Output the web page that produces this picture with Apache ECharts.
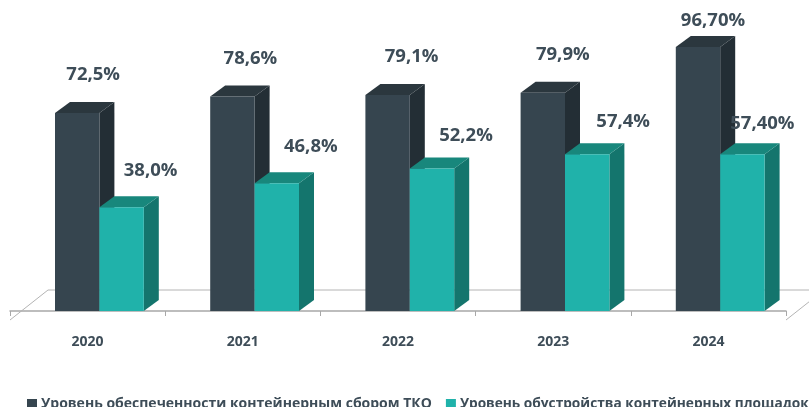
<!DOCTYPE html>
<html><head><meta charset="utf-8">
<style>html,body{margin:0;padding:0;background:#fff;overflow:hidden}#c{width:809px;height:407px}</style>
<script src="https://cdn.jsdelivr.net/npm/echarts@6/dist/echarts.min.js"></script>
</head><body><div id="c"></div>
<script>
const categories = ['2020','2021','2022','2023','2024'];
const collectionName = 'Уровень обеспеченности контейнерным сбором ТКО';
const sitesName = 'Уровень обустройства контейнерных площадок';
const collectionValues = [72.5,78.6,79.1,79.9,96.7];
const sitesValues = [38.0,46.8,52.2,57.4,57.4];
const collectionLabels = ['72,5%','78,6%','79,1%','79,9%','96,70%'];
const sitesLabels = ['38,0%','46,8%','52,2%','57,4%','57,40%'];

// layout only
const labelShiftDark = [[16,38],[18,38],[24,38],[20,38],[15,26]];
const labelShiftTeal = [[29,37],[34,37],[34,33],[36,33],[20,31]];
const DX = 15, DY = 11, BAR_RATIO = 44.4/155.2, START_RATIO = -32.6/155.2;
const TEXT = '#3e4d58', FONT = '"Open Sans"';

function bar3d(slot, colors, texts, shifts){
  return function(params, api){
    const i = api.value(0), v = api.value(1);
    const top = api.coord([i, v]), base = api.coord([i, 0]);
    const band = api.size([1,0])[0], w = band*BAR_RATIO;
    const x = top[0] + band*START_RATIO + slot*w, y = top[1], y0 = base[1];
    const poly = (pts, fill) => ({type:'polygon', shape:{points:pts}, style:{fill}});
    return {type:'group', children:[
      poly([[x+w,y],[x+w+DX,y-DY],[x+w+DX,y0-DY],[x+w,y0]], colors[1]),
      poly([[x,y],[x+DX,y-DY],[x+w+DX,y-DY],[x+w,y]], colors[2]),
      {type:'rect', shape:{x,y,width:w,height:y0-y}, style:{fill:colors[0]}},
      {type:'text', z2:100, style:{x:x+w/2+shifts[i][0], y:y-shifts[i][1], text:texts[i],
        fill:TEXT, font:'bold 18.5px '+FONT, textAlign:'center', textVerticalAlign:'middle'}}
    ]};
  };
}
function floor(params){
  const r = params.coordSys, f = r.y+r.height+9, b = f-30, l = r.x, e = r.x+r.width;
  const line = (x1,y1,x2,y2) => ({type:'line', shape:{x1,y1,x2,y2}, style:{stroke:'#b4b4b4', lineWidth:1}});
  return {type:'group', children:[line(l,f,l+38,b), line(l+38,b,e+38,b), line(e,f,e+38,b)]};
}
const chart = echarts.init(document.getElementById('c'), null, {renderer:'canvas'});
chart.setOption({
  animation:false,
  backgroundColor:'#fff',
  grid:{left:10, width:776, top:38, height:273},
  xAxis:{type:'category', data:categories, offset:9,
    axisLine:{lineStyle:{color:'#a8a8a8', width:1.5}},
    axisTick:{show:true, length:5, alignWithLabel:false, lineStyle:{color:'#a8a8a8'}},
    axisLabel:{color:TEXT, fontFamily:FONT, fontWeight:'bold', fontSize:14, margin:15}},
  yAxis:{type:'value', min:0, max:100, show:false},
  legend:{left:22, top:392, width:1400, itemWidth:10, itemHeight:10, itemGap:14, icon:'rect',
    data:[collectionName, {name:sitesName, textStyle:{fontSize:13.7}}],
    textStyle:{color:TEXT, fontFamily:FONT, fontWeight:'bold', fontSize:14, padding:[0,0,0,-1]}},
  series:[
    {type:'custom', name:'floor', z:1, silent:true, data:[[0,0]], encode:{x:0,y:1}, renderItem:floor},
    {type:'custom', name:collectionName, z:2, itemStyle:{color:'#36454f'}, encode:{x:0,y:1},
      data:collectionValues.map((v,i)=>[i,v]),
      renderItem:bar3d(0,['#36454f','#232e35','#2b373e'],collectionLabels,labelShiftDark)},
    {type:'custom', name:sitesName, z:3, itemStyle:{color:'#20b2aa'}, encode:{x:0,y:1},
      data:sitesValues.map((v,i)=>[i,v]),
      renderItem:bar3d(1,['#20b2aa','#14756d','#18877c'],sitesLabels,labelShiftTeal)}
  ]
});
</script></body></html>
